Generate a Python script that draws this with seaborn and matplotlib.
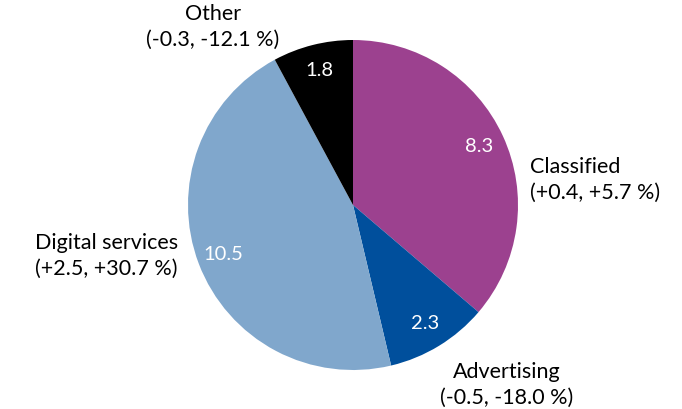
import matplotlib
matplotlib.use("Agg")
import matplotlib.pyplot as plt
import seaborn as sns

# slice values, clockwise from 12 o'clock
categories = ["Classified", "Advertising", "Digital services", "Other"]
values = [8.3, 2.3, 10.5, 1.8]
changes = ["(+0.4, +5.7 %)", "(-0.5, -18.0 %)", "(+2.5, +30.7 %)", "(-0.3, -12.1 %)"]
colors = ["#9c418f", "#004f9c", "#80a7cc", "#000000"]

sns.set_theme(style="white")
plt.rcParams["font.family"] = ["Lato", "DejaVu Sans"]

fig = plt.figure(figsize=(6.82, 4.09), dpi=100)
# square axes holding the pie, in figure fractions
ax = fig.add_axes([188 / 682, 39 / 409, 330 / 682, 330 / 409])

wedges, texts, autotexts = ax.pie(
    values,
    colors=colors,
    startangle=90,
    counterclock=False,
    autopct=lambda p: f"{p * sum(values) / 100:.1f}",
    pctdistance=0.84,
    textprops=dict(color="white", fontsize=14.5),
    wedgeprops=dict(linewidth=0),
)
ax.set_xlim(-1, 1)
ax.set_ylim(-1, 1)
ax.set_aspect("equal")
ax.axis("off")

lab = dict(fontsize=15.5, color="black", linespacing=1.35, va="center")
ax.text(1.07, 0.15, f"{categories[0]}\n{changes[0]}", ha="left", **lab)
ax.text(0.93, -1.09, f"{categories[1]}\n{changes[1]}", ha="center", **lab)
ax.text(-1.06, -0.31, f"{categories[2]}\n{changes[2]}", ha="right", multialignment="center", **lab)
ax.text(-0.85, 1.08, f"{categories[3]}\n{changes[3]}", ha="center", **lab)

fig.savefig("out.png", dpi=100)
